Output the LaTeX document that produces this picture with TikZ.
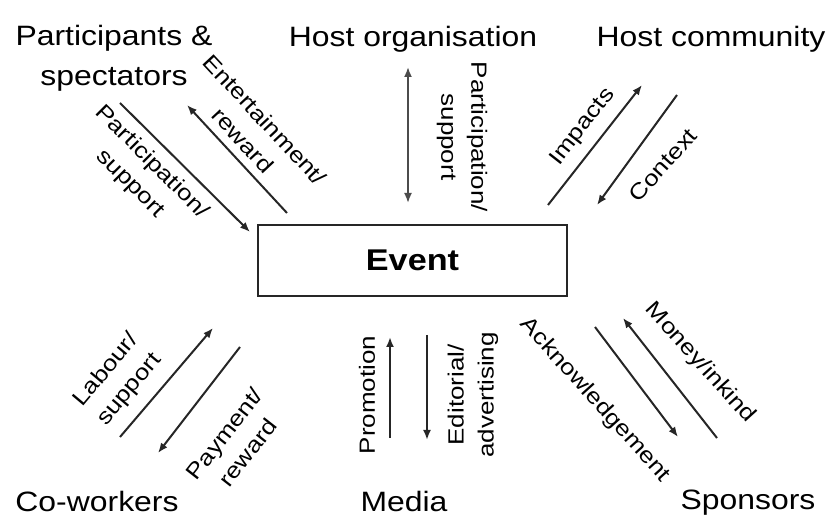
\documentclass[tikz,border=0pt]{standalone}
\usepackage{fontspec}
\setmainfont{Liberation Sans}[FakeStretch=1.14]
\newfontfamily\labf{Liberation Sans}[FakeStretch=1.18]
\usetikzlibrary{arrows.meta}
\begin{document}
\begin{tikzpicture}[x=1pt,y=-1pt,
  big/.style={font=\fontsize{28}{40}\selectfont, align=center, inner sep=0pt},
  lab/.style={font=\labf\fontsize{22}{30}\selectfont, align=center, inner sep=0pt},
  arr/.style={line width=2pt, draw=black!85, -{Latex[length=10pt,width=8pt]}},
  darr/.style={line width=1.8pt, draw=black!70, {Latex[length=10pt,width=8pt]}-{Latex[length=10pt,width=8pt]}},
  eventbox/.style={draw=black!85, line width=2pt, minimum width=309pt, minimum height=71pt, inner sep=0pt,
    font=\bfseries\fontsize{30}{34}\selectfont}]
\useasboundingbox (0,0) rectangle (831,518);
% main nodes
\node[big] (ps) at (114,58) {Participants \&\\spectators};
\node[big] (ho) at (413,39) {Host organisation};
\node[big] (hc) at (711,39) {Host community};
\node[big] (cw) at (97,501) {Co-workers};
\node[big] (me) at (404,501) {Media};
\node[big] (sp) at (748,503) {Sponsors};
\node[eventbox] (ev) at (412.5,260.5) {Event};
% arrow end points
\coordinate (ps1a) at (120,103); \coordinate (ps1b) at (250,232);
\coordinate (ps2a) at (287,213); \coordinate (ps2b) at (187,105);
\coordinate (hoa) at (408,67); \coordinate (hob) at (408,203);
\coordinate (hc1a) at (548,205); \coordinate (hc1b) at (642,85);
\coordinate (hc2a) at (677,95); \coordinate (hc2b) at (597,205);
\coordinate (cw1a) at (120,437); \coordinate (cw1b) at (213,328);
\coordinate (cw2a) at (240,347); \coordinate (cw2b) at (158,453);
\coordinate (m1a) at (390,438); \coordinate (m1b) at (390,337);
\coordinate (m2a) at (427,335); \coordinate (m2b) at (427,440);
\coordinate (sp1a) at (595,327); \coordinate (sp1b) at (678,437);
\coordinate (sp2a) at (717,438); \coordinate (sp2b) at (623,318);
% arrows
\draw[arr] (ps1a) -- (ps1b);
\draw[arr] (ps2a) -- (ps2b);
\draw[darr] (hoa) -- (hob);
\draw[arr] (hc1a) -- (hc1b);
\draw[arr] (hc2a) -- (hc2b);
\draw[arr] (cw1a) -- (cw1b);
\draw[arr] (cw2a) -- (cw2b);
\draw[arr] (m1a) -- (m1b);
\draw[arr] (m2a) -- (m2b);
\draw[arr] (sp1a) -- (sp1b);
\draw[arr] (sp2a) -- (sp2b);
% labels
\node[lab, rotate=-47] (l1) at (254,130) {Entertainment/\\reward};
\node[lab, rotate=-45] (l2) at (141,173) {Participation/\\support};
\node[lab, rotate=-90] (l3) at (462,137) {Participation/\\support};
\node[lab, rotate=52] (l4) at (583,127) {Impacts};
\node[lab, rotate=48] (l5) at (663,165) {Context};
\node[lab, rotate=50] (l6) at (118,380) {Labour/\\support};
\node[lab, rotate=52] (l7) at (236,443) {Payment/\\reward};
\node[lab, rotate=90] (l8) at (367,395) {Promotion};
\node[lab, rotate=90] (l9) at (473,395) {Editorial/\\advertising};
\node[lab, rotate=-48] (l10) at (595,400) {Acknowledgement};
\node[lab, rotate=-48] (l11) at (700,363) {Money/inkind};
\end{tikzpicture}
\end{document}
